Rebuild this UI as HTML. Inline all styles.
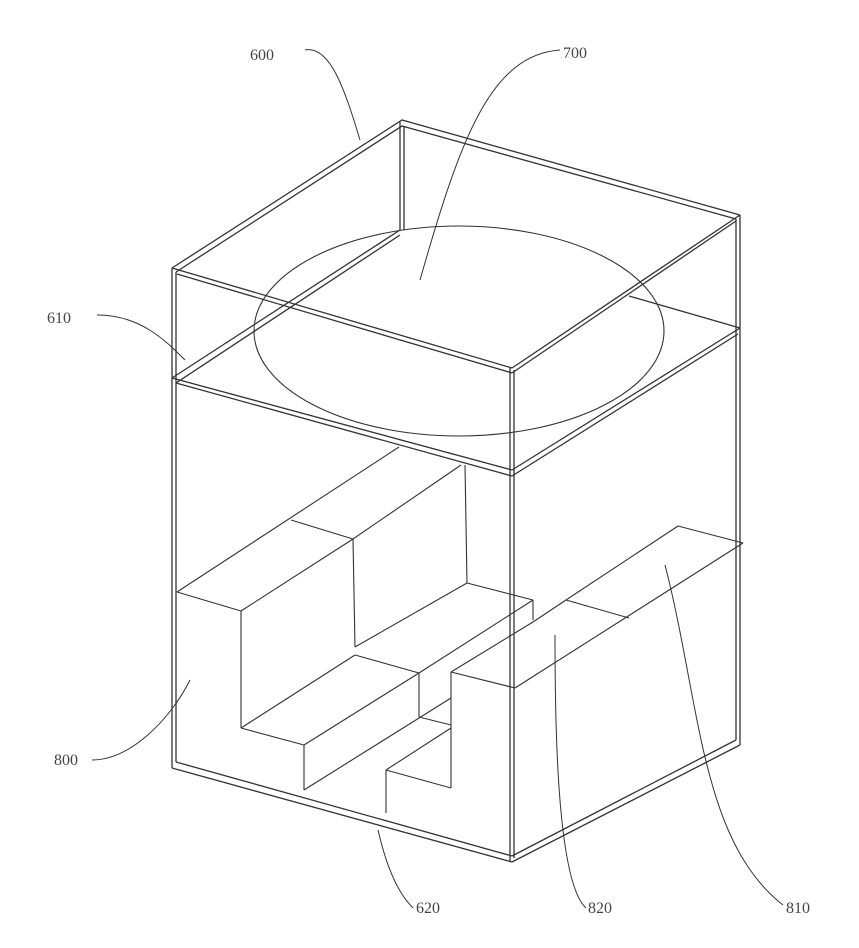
<!DOCTYPE html>
<html><head><style>
html,body{margin:0;padding:0;background:#fff;}
svg{display:block;}
text{font-family:"Liberation Serif",serif;font-size:16px;fill:#444;}
</style></head><body>
<svg width="859" height="948" viewBox="0 0 859 948" xmlns="http://www.w3.org/2000/svg">
<g fill="none" stroke="#333" stroke-width="1.3">
<polyline points="172,268 402,120 740,215"/>
<polyline points="176,272 402,126 736,219"/>
<line x1="172" y1="268" x2="512" y2="368"/>
<line x1="177" y1="274" x2="512" y2="373"/>
<line x1="512" y1="368" x2="740" y2="215"/>
<line x1="512" y1="373" x2="736" y2="221"/>
<line x1="400" y1="122" x2="400" y2="230"/>
<line x1="404" y1="126" x2="404" y2="230"/>
<line x1="172" y1="268" x2="172" y2="768"/>
<line x1="176" y1="272" x2="176" y2="762"/>
<line x1="510" y1="368" x2="510" y2="862"/>
<line x1="514" y1="370" x2="514" y2="858"/>
<line x1="740" y1="215" x2="740" y2="745"/>
<line x1="736" y1="219" x2="736" y2="740"/>
<line x1="172" y1="378" x2="512" y2="470"/>
<line x1="176" y1="383" x2="512" y2="476"/>
<line x1="512" y1="470" x2="740" y2="328"/>
<line x1="512" y1="476" x2="738" y2="334"/>
<line x1="172" y1="378" x2="400" y2="230"/>
<line x1="176" y1="383" x2="400" y2="235"/>
<line x1="629" y1="296" x2="740" y2="328"/>
<line x1="172" y1="768" x2="512" y2="862"/>
<line x1="176" y1="762" x2="512" y2="856"/>
<line x1="512" y1="862" x2="740" y2="745"/>
<line x1="512" y1="856" x2="736" y2="740"/>
<ellipse cx="459" cy="331" rx="205" ry="105" stroke-width="1.1"/>
<g stroke-width="1.1">
<line x1="177" y1="592" x2="399" y2="447"/>
<line x1="177" y1="592" x2="241" y2="611"/>
<line x1="241" y1="611" x2="353" y2="539"/>
<line x1="291" y1="520" x2="353" y2="539"/>
<line x1="353" y1="539" x2="461" y2="465"/>
<line x1="241" y1="611" x2="241" y2="728"/>
<line x1="353" y1="539" x2="355" y2="647"/>
<line x1="465" y1="465" x2="467" y2="583"/>
<line x1="355" y1="647" x2="467" y2="583"/>
<line x1="241" y1="728" x2="355" y2="655"/>
<line x1="241" y1="728" x2="304" y2="745"/>
<line x1="304" y1="745" x2="419" y2="673"/>
<line x1="355" y1="655" x2="419" y2="673"/>
<line x1="467" y1="583" x2="533" y2="600"/>
<line x1="533" y1="600" x2="533" y2="620"/>
<line x1="533" y1="600" x2="419" y2="673"/>
<line x1="304" y1="745" x2="304" y2="790"/>
<line x1="304" y1="790" x2="451" y2="698"/>
<line x1="419" y1="673" x2="419" y2="717"/>
<line x1="419" y1="717" x2="451" y2="725"/>
<line x1="451" y1="672" x2="451" y2="788"/>
<line x1="386" y1="770" x2="451" y2="788"/>
<line x1="386" y1="770" x2="386" y2="813"/>
<line x1="386" y1="770" x2="451" y2="728"/>
<line x1="451" y1="672" x2="515" y2="688"/>
<line x1="515" y1="688" x2="743" y2="543"/>
<line x1="566" y1="600" x2="678" y2="526"/>
<line x1="678" y1="526" x2="743" y2="543"/>
<line x1="566" y1="600" x2="629" y2="618"/>
<line x1="451" y1="672" x2="533" y2="622"/>
<line x1="533" y1="622" x2="566" y2="600"/>
</g>
<g stroke-width="1">
<path d="M305,50 C330,45 345,90 360,140"/>
<path d="M560,50 C490,55 460,140 420,280"/>
<path d="M97,315 C140,315 165,340 185,360"/>
<path d="M92,760 C130,760 170,720 190,680"/>
<path d="M413,908 C395,890 385,860 378,830"/>
<path d="M586,908 C555,880 555,700 555,635"/>
<path d="M783,905 C700,840 700,700 665,565"/>
</g>
</g>
<text x="250" y="60">600</text>
<text x="563" y="58">700</text>
<text x="47" y="323">610</text>
<text x="54" y="765">800</text>
<text x="416" y="913">620</text>
<text x="588" y="913">820</text>
<text x="786" y="913">810</text>
</svg>
</body></html>
